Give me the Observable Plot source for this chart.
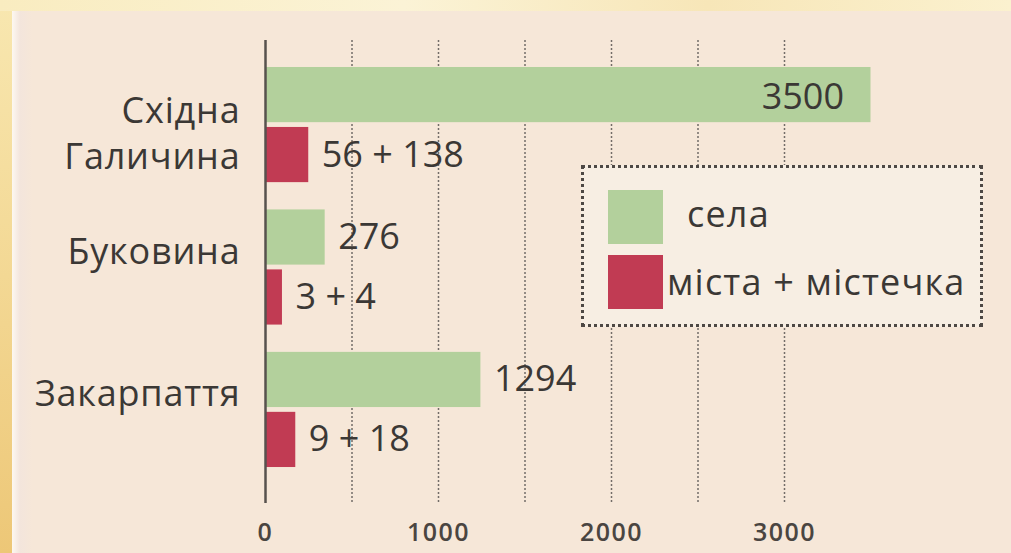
<!DOCTYPE html>
<html>
<head>
<meta charset="utf-8">
<script src="https://cdn.jsdelivr.net/npm/d3@7"></script>
<script src="https://cdn.jsdelivr.net/npm/@observablehq/plot@0.6"></script>
<style>
  html, body { margin: 0; padding: 0; }
  body { width: 1011px; height: 553px; position: relative; overflow: hidden;
         background: linear-gradient(180deg, #f8e7b0 0%, #f3d894 50%, #edc777 100%);
         font-family: "Open Sans", sans-serif; }
  #topband { position: absolute; left: 0; top: 0; width: 1011px; height: 11px;
         background: linear-gradient(90deg, #f9ecc0 0%, #fbf3d6 40%, #f7e6b8 70%, #fbf1cf 100%); }
  #panel { position: absolute; left: 12px; top: 11px; width: 999px; height: 542px;
         background: linear-gradient(90deg, #fdf8f1 0px, #f3e5dc 8px, #f6e7d8 20px, #f6e7d8 100%); }
  #chart { position: absolute; left: 0; top: 0; }
  #chart svg g[aria-label^="x-axis"] text { font-size: 25px; font-weight: 600; fill: #4a4541; letter-spacing: 1.5px; }
  #legend { position: absolute; left: 581px; top: 165px; width: 396px; height: 156px;
         border: 3px dotted #4d4844; background: #f7eee3; box-sizing: content-box; }
  .item { position: absolute; left: 24px; display: flex; align-items: center; }
  .sw { width: 55px; height: 54px; }
  .lab { font-size: 36px; color: #3b3835; line-height: 1; letter-spacing: 1.2px; }
</style>
</head>
<body>
<div id="topband"></div>
<div id="panel"></div>
<div id="chart"></div>
<div id="legend"></div>
<script>
// ---- data ----
const regions = ["Східна\nГаличина", "Буковина", "Закарпаття"];
const seriesNames = ["села", "міста + містечка"];
const seriesColors = ["#b3d09c", "#c13b53"];
// bar lengths as drawn in the picture
const villageValues = [3500, 345, 1245];
const townValues = [250, 98, 175];
// printed value labels
const villageLabels = ["3500", "276", "1294"];
const townLabels = ["56 + 138", "3 + 4", "9 + 18"];
const xTicks = [0, 1000, 2000, 3000];
const gridTicks = [500, 1000, 1500, 2000, 2500, 3000];

// ---- layout helpers ----
const groupStep = 2.375;
const half = 0.46;
const rows = [];
regions.forEach((r, g) => {
  rows.push({region: r, series: seriesNames[0], value: villageValues[g], label: villageLabels[g], pos: g * groupStep});
  rows.push({region: r, series: seriesNames[1], value: townValues[g], label: townLabels[g], pos: g * groupStep + 1});
});
const regionRows = regions.map((r, g) => ({region: r, pos: g * groupStep + 0.5, multi: r.includes("\n")}));

const chart = Plot.plot({
  width: 1011,
  height: 553,
  marginLeft: 265,
  marginRight: 54,
  marginTop: 40,
  marginBottom: 50,
  style: {background: "transparent", fontFamily: "'Open Sans', sans-serif", color: "#3b3835"},
  x: {domain: [0, 4000], ticks: xTicks, tickSize: 0, tickPadding: 20, label: null, tickFormat: d => String(d)},
  y: {domain: [-0.91, 6.81], reverse: true, axis: null},
  color: {domain: seriesNames, range: seriesColors},
  marks: [
    Plot.ruleX(gridTicks, {stroke: "#736d68", strokeWidth: 1.5, strokeDasharray: "2,2"}),
    Plot.rectX(rows, {x1: 0, x2: "value", y1: d => d.pos - half, y2: d => d.pos + half, fill: "series"}),
    Plot.ruleX([0], {stroke: "#57524e", strokeWidth: 2.5}),
    Plot.text(rows.filter(d => d.value > 2000), {x: "value", y: "pos", text: "label", textAnchor: "end", dx: -27, dy: 2, fontSize: 36, fill: "#3b3835"}),
    Plot.text(rows.filter(d => d.value <= 2000), {x: "value", y: "pos", text: "label", textAnchor: "start", dx: 13, dy: 0, fontSize: 36, fill: "#3b3835"}),
    Plot.text(regionRows.filter(d => d.multi), {x: 0, y: "pos", text: "region", textAnchor: "end", dx: -25, dy: 6, fontSize: 36, lineHeight: 1.27, fill: "#3b3835"}),
    Plot.text(regionRows.filter(d => !d.multi), {x: 0, y: "pos", text: "region", textAnchor: "end", dx: -25, dy: -15, fontSize: 36, fill: "#3b3835"})
  ]
});
document.getElementById("chart").appendChild(chart);
// slightly wider letter spacing for the region names, like the reference typeface
d3.select(chart).selectAll("text")
  .filter(function() { return regions.some(r => r.replace("\n", "") === this.textContent); })
  .style("letter-spacing", "0.8px");

// ---- legend ----
const legend = document.getElementById("legend");
seriesNames.forEach((name, i) => {
  const item = document.createElement("div");
  item.className = "item";
  item.style.top = (i === 0 ? 22 : 87) + "px";
  const sw = document.createElement("div");
  sw.className = "sw";
  sw.style.background = seriesColors[i];
  const lab = document.createElement("div");
  lab.className = "lab";
  lab.style.marginLeft = (i === 0 ? 24 : 4) + "px";
  lab.style.marginTop = (i === 0 ? "-6px" : "0px");
  lab.textContent = name;
  item.appendChild(sw);
  item.appendChild(lab);
  legend.appendChild(item);
});
</script>
</body>
</html>
